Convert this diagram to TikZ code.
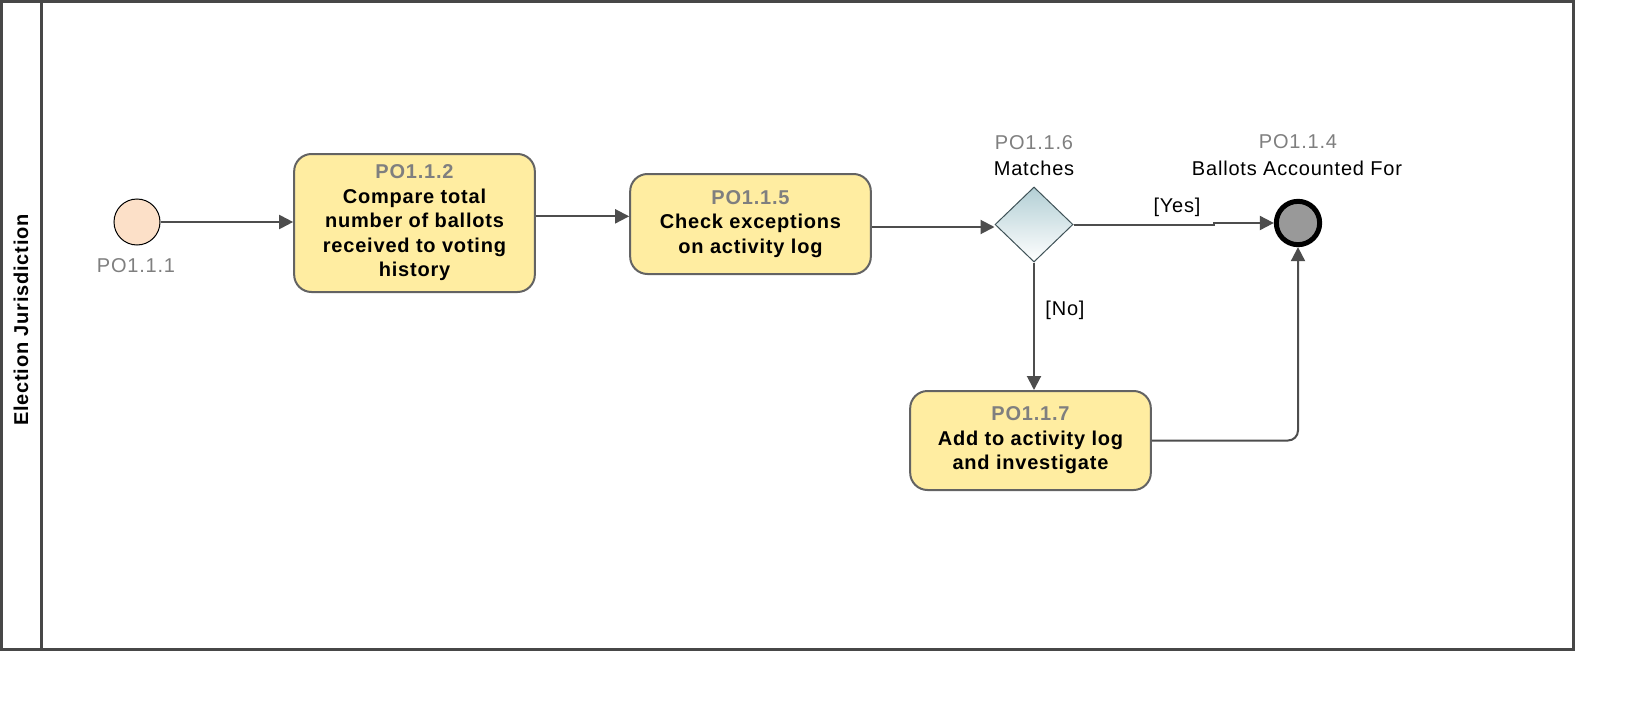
\documentclass[tikz,border=0pt]{standalone}
\usepackage{fontspec}
\setmainfont{Liberation Sans}[LetterSpace=4]
\usetikzlibrary{shapes.geometric,arrows.meta,calc}
\definecolor{edgec}{HTML}{4D4D4D}
\definecolor{taskfill}{HTML}{FFEDA1}
\definecolor{taskdraw}{HTML}{636363}
\definecolor{idgray}{HTML}{7F7F7F}
\definecolor{startfill}{HTML}{FCE0C8}
\definecolor{gwtop}{HTML}{B3CFD5}
\definecolor{gwdraw}{HTML}{3F5257}
\definecolor{endfill}{HTML}{999999}
\definecolor{lanec}{HTML}{474747}
\begin{document}
\begin{tikzpicture}[x=0.75pt,y=-0.75pt,
  txt/.style={font=\fontsize{15}{18}\selectfont,inner sep=1pt},
  idlbl/.style={text=idgray,font=\fontsize{15}{18}\selectfont,inner sep=1pt},
  task/.style={draw=taskdraw,fill=taskfill,line width=1.5pt,rounded corners=13pt,
    align=center,font=\fontsize{15}{18.4}\selectfont\bfseries,inner sep=0pt,minimum width=180.5pt},
  flow/.style={draw=edgec,line width=1.5pt,-{Triangle[length=10.5pt,width=10.5pt]}},
  lanebox/.style={draw=lanec,line width=2.25pt}]
\useasboundingbox (0,0) rectangle (1634,710);
\fill[white] (0,0) rectangle (1634,710);
\draw[lanebox] (1.5,1.5) rectangle (1573,649);
\draw[lanebox] (41.5,1.5) -- (41.5,649);
\node[rotate=90,font=\fontsize{15}{17}\selectfont\bfseries] (lane) at (21,320) {Election Jurisdiction};

\node[circle,draw=black,line width=0.75pt,fill=startfill,minimum size=34.5pt,inner sep=0pt] (start) at (137,222) {};
\node[idlbl] (l1) at (136,266) {PO1.1.1};

\node[task,minimum height=103.5pt] (t1) at (414.5,223)
  {\textcolor{idgray}{PO1.1.2}\\Compare total\\number of ballots\\received to voting\\history};
\node[task,minimum height=75pt] (t2) at (750.5,224)
  {\textcolor{idgray}{PO1.1.5}\\Check exceptions\\on activity log};
\node[diamond,draw=gwdraw,line width=0.75pt,top color=gwtop,bottom color=white,
  minimum width=58.5pt,minimum height=56.25pt,inner sep=0pt] (gw) at (1034,224.5) {};
\node[idlbl] (l6) at (1034,143) {PO1.1.6};
\node[txt] (m6) at (1034,168) {Matches};

\node[circle,draw=black,line width=3.75pt,fill=endfill,minimum size=32.5pt,inner sep=0pt] (end) at (1298,223) {};
\node[idlbl] (l4) at (1298,142) {PO1.1.4};
\node[txt] (m4) at (1297,168) {Ballots Accounted For};

\node[task,minimum height=74.25pt] (t3) at (1030.5,440.5)
  {\textcolor{idgray}{PO1.1.7}\\Add to activity log\\and investigate};

\draw[flow] (start.east) -- (start.east -| t1.west);
\draw[flow] ([yshift=5pt]t1.east) -- ([yshift=5pt]t1.east -| t2.west);
\draw[flow] ([yshift=-2.25pt]t2.east) -- ([yshift=-2.25pt]t2.east -| gw.west);
\draw[flow] (gw.east) -- ++(140,0) |- (end.west);
\node[txt] (yes) at (1177,207) {[Yes]};
\draw[flow] (gw.south) -- (gw.south |- t3.north);
\node[txt] (no) at (1065,310) {[No]};
\draw[flow,rounded corners=7.5pt] (t3.east) -| (end.south);
\end{tikzpicture}
\end{document}
